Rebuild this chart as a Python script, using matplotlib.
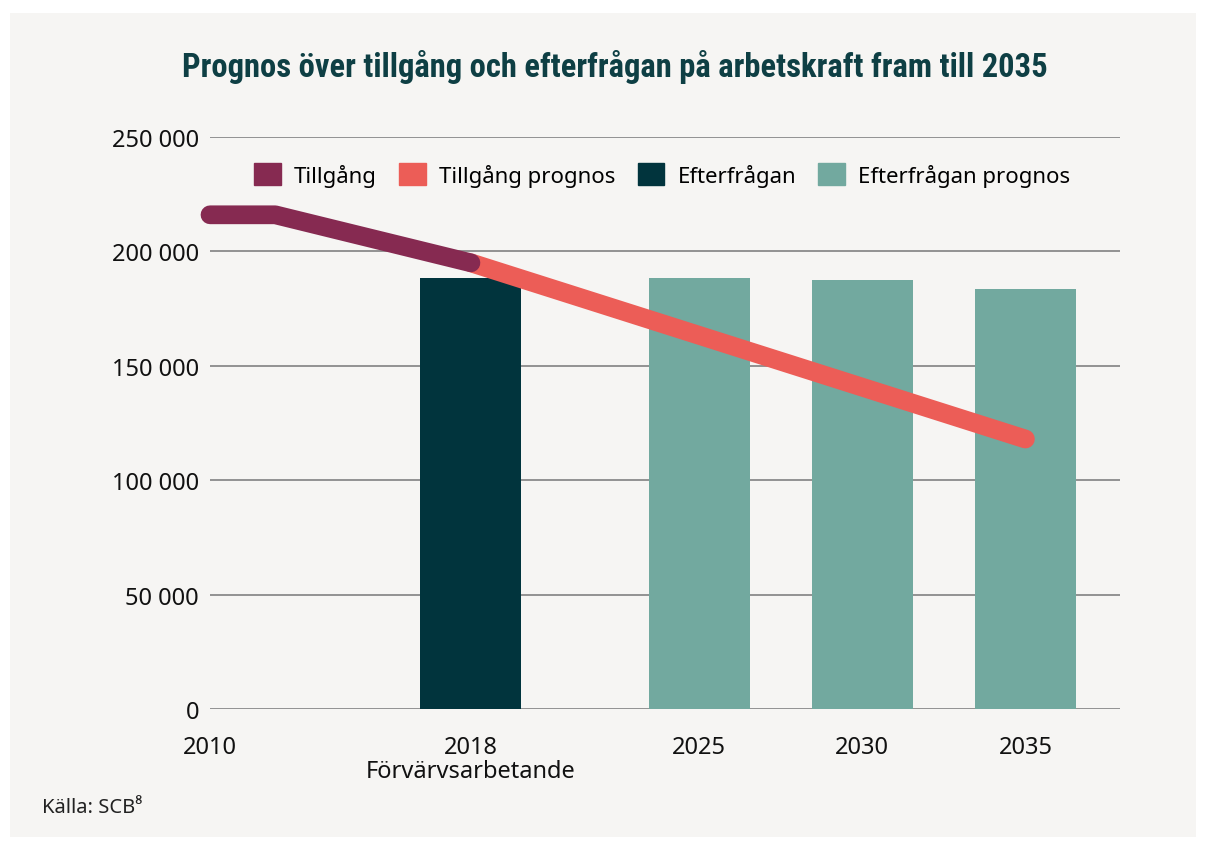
import matplotlib.pyplot as plt
from matplotlib.patches import Patch, Rectangle

# data
supply_years = [2010, 2012, 2018]
supply = [216000, 216000, 195000]
supply_fc_years = [2018, 2035]
supply_fc = [195000, 118000]
demand_years = [2018]
demand = [188500]
demand_fc_years = [2025, 2030, 2035]
demand_fc = [188500, 187500, 183500]
tick_years = [2010, 2018, 2025, 2030, 2035]
tick_labels = ['2010', '2018\nFörvärvsarbetande', '2025', '2030', '2035']
yticks = [0, 50000, 100000, 150000, 200000, 250000]

c_supply = '#862a51'
c_supply_fc = '#ec5d57'
c_demand = '#01343d'
c_demand_fc = '#72a99f'
bg = '#f6f5f3'
font = ['Noto Sans', 'DejaVu Sans']

plt.rcParams['font.family'] = font

fig = plt.figure(figsize=(12.06, 8.45), dpi=100)
fig.patch.set_facecolor('white')
panel = Rectangle((10 / 1206, 1 - 838 / 845), 1186 / 1206, 824 / 845,
                  transform=fig.transFigure, facecolor=bg, edgecolor='none', zorder=-10)
fig.add_artist(panel)

ax = fig.add_axes([210 / 1206, 1 - 710 / 845, 910 / 1206, 572 / 845])
ax.patch.set_visible(False)

ax.bar(demand_years, demand, width=3.1, color=c_demand, zorder=2)
ax.bar(demand_fc_years, demand_fc, width=3.1, color=c_demand_fc, zorder=2)
ax.plot(supply_fc_years, supply_fc, color=c_supply_fc, lw=13.5, solid_capstyle='round', zorder=3, clip_on=False)
ax.plot(supply_years, supply, color=c_supply, lw=13.5, solid_capstyle='round', solid_joinstyle='round', zorder=4, clip_on=False)

ax.set_xlim(2010, 2037.9)
ax.set_ylim(0, 250000)
ax.set_yticks(yticks)
ax.set_yticklabels([f'{v:,}'.replace(',', ' ') for v in yticks])
ax.set_xticks(tick_years)
ax.set_xticklabels(tick_labels, linespacing=1.0)
ax.tick_params(axis='both', length=0, labelsize=17, colors='#111111')
ax.tick_params(axis='y', pad=8)
ax.tick_params(axis='x', pad=19)
ax.grid(axis='y', color='#8a8a8a', lw=1.3, zorder=1)
ax.set_axisbelow(True)
for s in ax.spines.values():
    s.set_visible(False)

handles = [Patch(color=c_supply), Patch(color=c_supply_fc), Patch(color=c_demand), Patch(color=c_demand_fc)]
labels = ['Tillgång', 'Tillgång prognos', 'Efterfrågan', 'Efterfrågan prognos']
ax.legend(handles, labels, loc='upper center', bbox_to_anchor=(0.497, 0.99), ncol=4, frameon=False,
          fontsize=16, handlelength=1.2, handleheight=1.2, handletextpad=0.6, columnspacing=1.0)

fig.text(615 / 1206, 1 - 67 / 845, 'Prognos över tillgång och efterfrågan på arbetskraft fram till 2035',
         ha='center', va='center', fontsize=23.5, fontweight='bold', color='#0e3f44',
         family=['Roboto Condensed', 'Roboto', 'DejaVu Sans'], fontstretch='condensed')
fig.text(42 / 1206, 1 - 808 / 845, 'Källa: SCB⁸', ha='left', va='center', fontsize=14.5, color='#222222')

fig.savefig('out.png', dpi=100, facecolor=fig.get_facecolor())
